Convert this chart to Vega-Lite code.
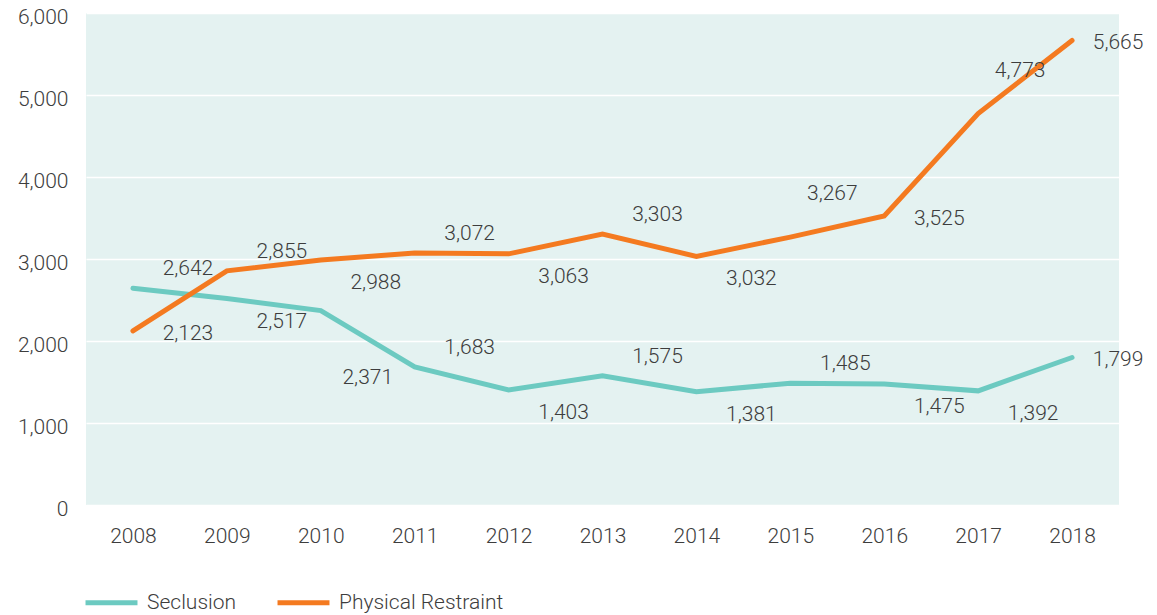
{
  "$schema": "https://vega.github.io/schema/vega-lite/v6.json",
  "width": 1033,
  "height": 492,
  "autosize": "none",
  "padding": {"left": 86, "top": 13, "right": 38, "bottom": 110},
  "background": "white",
  "config": {
    "view": {"fill": "#e4f2f1", "stroke": null},
    "font": "Roboto",
    "axis": {"labelFont": "Roboto", "labelFontSize": 21, "labelFontWeight": 300, "labelColor": "#3d3d3d", "domain": false, "ticks": false, "title": null},
    "legend": {"labelFont": "Roboto", "labelFontSize": 21, "labelFontWeight": 300, "labelColor": "#3d3d3d", "labelLimit": 0}
  },
  "data": {
    "values": [
      {"year": "2008", "series": "Seclusion", "value": 2642, "placement": "above"},
      {"year": "2009", "series": "Seclusion", "value": 2517, "placement": "below"},
      {"year": "2010", "series": "Seclusion", "value": 2371, "placement": "far below"},
      {"year": "2011", "series": "Seclusion", "value": 1683, "placement": "above"},
      {"year": "2012", "series": "Seclusion", "value": 1403, "placement": "below"},
      {"year": "2013", "series": "Seclusion", "value": 1575, "placement": "above"},
      {"year": "2014", "series": "Seclusion", "value": 1381, "placement": "below"},
      {"year": "2015", "series": "Seclusion", "value": 1485, "placement": "above"},
      {"year": "2016", "series": "Seclusion", "value": 1475, "placement": "below"},
      {"year": "2017", "series": "Seclusion", "value": 1392, "placement": "below"},
      {"year": "2018", "series": "Seclusion", "value": 1799, "placement": "end"},
      {"year": "2008", "series": "Physical Restraint", "value": 2123, "placement": "level"},
      {"year": "2009", "series": "Physical Restraint", "value": 2855, "placement": "above"},
      {"year": "2010", "series": "Physical Restraint", "value": 2988, "placement": "below"},
      {"year": "2011", "series": "Physical Restraint", "value": 3072, "placement": "above"},
      {"year": "2012", "series": "Physical Restraint", "value": 3063, "placement": "below"},
      {"year": "2013", "series": "Physical Restraint", "value": 3303, "placement": "above"},
      {"year": "2014", "series": "Physical Restraint", "value": 3032, "placement": "below"},
      {"year": "2015", "series": "Physical Restraint", "value": 3267, "placement": "far above"},
      {"year": "2016", "series": "Physical Restraint", "value": 3525, "placement": "level"},
      {"year": "2017", "series": "Physical Restraint", "value": 4773, "placement": "far above"},
      {"year": "2018", "series": "Physical Restraint", "value": 5665, "placement": "end"}
    ]
  },
  "encoding": {
    "x": {"field": "year", "type": "ordinal", "scale": {"type": "point", "padding": 0.5},
          "axis": {"labelAngle": 0, "labelPadding": 20, "grid": false}},
    "y": {"field": "value", "type": "quantitative", "scale": {"domain": [0, 6000], "nice": false},
          "axis": {"values": [0, 1000, 2000, 3000, 4000, 5000, 6000], "format": ",.0f", "labelPadding": 18, "labelOffset": 4,
                   "grid": true, "gridColor": "white", "gridWidth": 1.5}}
  },
  "layer": [
    {
      "mark": {"type": "line", "strokeWidth": 5, "strokeCap": "round", "strokeJoin": "miter"},
      "encoding": {
        "color": {"field": "series", "type": "nominal",
                  "scale": {"domain": ["Seclusion", "Physical Restraint"], "range": ["#6ccac1", "#f47a20"]},
                  "legend": {"title": null, "orient": "none", "legendX": -3, "legendY": 561, "direction": "horizontal",
                             "symbolType": "stroke", "symbolStrokeWidth": 5, "symbolSize": 2700, "labelOffset": 7,
                             "columnPadding": 30}}
      }
    },
    {
      "transform": [{"filter": "datum.placement === 'above'"}],
      "mark": {"type": "text", "font": "Roboto", "fontSize": 21, "fontWeight": 300, "color": "#3d3d3d", "align": "center", "baseline": "middle", "dx": 55, "dy": -19},
      "encoding": {"text": {"field": "value", "type": "quantitative", "format": ",.0f"}}
    },
    {
      "transform": [{"filter": "datum.placement === 'below'"}],
      "mark": {"type": "text", "font": "Roboto", "fontSize": 21, "fontWeight": 300, "color": "#3d3d3d", "align": "center", "baseline": "middle", "dx": 55, "dy": 23},
      "encoding": {"text": {"field": "value", "type": "quantitative", "format": ",.0f"}}
    },
    {
      "transform": [{"filter": "datum.placement === 'level'"}],
      "mark": {"type": "text", "font": "Roboto", "fontSize": 21, "fontWeight": 300, "color": "#3d3d3d", "align": "center", "baseline": "middle", "dx": 55, "dy": 3},
      "encoding": {"text": {"field": "value", "type": "quantitative", "format": ",.0f"}}
    },
    {
      "transform": [{"filter": "datum.placement === 'end'"}],
      "mark": {"type": "text", "font": "Roboto", "fontSize": 21, "fontWeight": 300, "color": "#3d3d3d", "align": "center", "baseline": "middle", "dx": 46, "dy": 3},
      "encoding": {"text": {"field": "value", "type": "quantitative", "format": ",.0f"}}
    },
    {
      "transform": [{"filter": "datum.placement === 'far above'"}],
      "mark": {"type": "text", "font": "Roboto", "fontSize": 21, "fontWeight": 300, "color": "#3d3d3d", "align": "center", "baseline": "middle", "dx": 42, "dy": -43},
      "encoding": {"text": {"field": "value", "type": "quantitative", "format": ",.0f"}}
    },
    {
      "transform": [{"filter": "datum.placement === 'far below'"}],
      "mark": {"type": "text", "font": "Roboto", "fontSize": 21, "fontWeight": 300, "color": "#3d3d3d", "align": "center", "baseline": "middle", "dx": 47, "dy": 67},
      "encoding": {"text": {"field": "value", "type": "quantitative", "format": ",.0f"}}
    }
  ]
}
